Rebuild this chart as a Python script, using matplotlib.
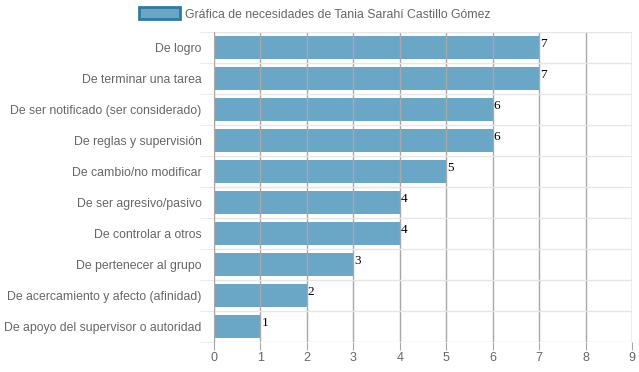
import matplotlib
matplotlib.use('Agg')
import matplotlib.pyplot as plt
from matplotlib.patches import Patch

categories = [
    'De logro',
    'De terminar una tarea',
    'De ser notificado (ser considerado)',
    'De reglas y supervisión',
    'De cambio/no modificar',
    'De ser agresivo/pasivo',
    'De controlar a otros',
    'De pertenecer al grupo',
    'De acercamiento y afecto (afinidad)',
    'De apoyo del supervisor o autoridad',
]
values = [7, 7, 6, 6, 5, 4, 4, 3, 2, 1]
series_name = 'Gráfica de necesidades de Tania Sarahí Castillo Gómez'
x_ticks = list(range(10))

plt.rcParams['font.family'] = ['Liberation Sans', 'DejaVu Sans']

bar_color = '#5a9cc0'
fig = plt.figure(figsize=(6.39, 3.72), dpi=100)
ax = fig.add_axes([214 / 639, 1 - 342 / 372, 418 / 639, 310 / 372])

ys = list(range(len(categories)))
ax.barh(ys, values, height=0.72, color=bar_color, alpha=0.9, zorder=1)
for y, v in zip(ys, values):
    ax.text(v + 0.02, y - 0.3, str(v), family='Liberation Serif', fontsize=9.5,
            color='black', ha='left', va='top', zorder=3)

ax.set_xlim(0, 9)
ax.set_ylim(len(categories) - 0.5, -0.5)
ax.set_xticks(x_ticks)
ax.set_yticks(ys, categories)
ax.set_yticks([y + 0.5 for y in range(-1, len(categories))], minor=True)

ax.grid(axis='x', color='#a8a8a8', linewidth=1, zorder=2)
ax.grid(axis='y', which='minor', color='#e6e6e6', linewidth=1, zorder=0)
ax.tick_params(axis='x', length=6, color='#a8a8a8', labelsize=9, labelcolor='#666666', pad=1)
ax.tick_params(axis='y', which='major', length=0, labelsize=8.8, labelcolor='#666666', pad=9)
ax.tick_params(axis='y', which='minor', length=10, color='#e6e6e6')
for s in ['top', 'right', 'bottom']:
    ax.spines[s].set_visible(False)
ax.spines['left'].set_color('#a8a8a8')

handle = Patch(facecolor='#6aa6c4', edgecolor='#2d7aa5', linewidth=2)
fig.legend([handle], [series_name], loc='center', bbox_to_anchor=(0.493, 1 - 14 / 372),
           frameon=False, fontsize=8.8, labelcolor='#666666', handlelength=3.3,
           handleheight=1.1, handletextpad=0.45)

fig.savefig('out.png', dpi=100)
